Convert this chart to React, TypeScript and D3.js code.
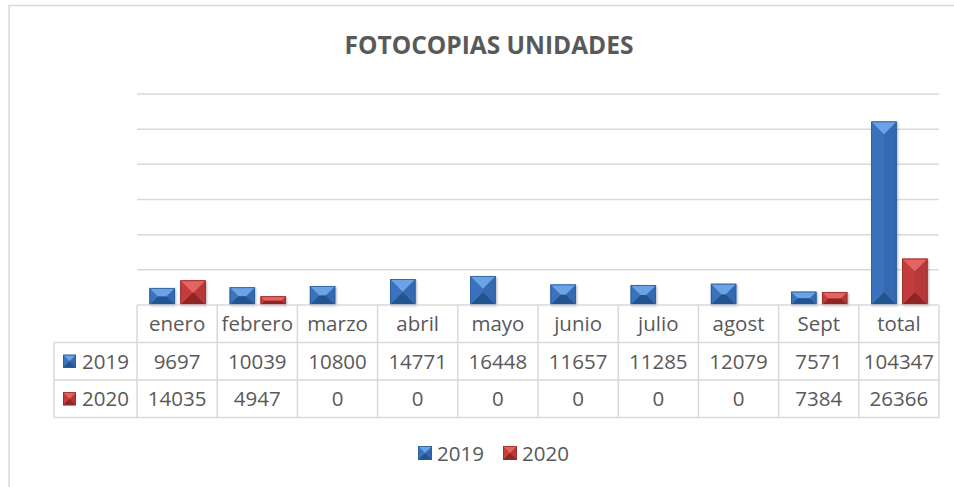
import * as d3 from 'd3';

const categories = ['enero', 'febrero', 'marzo', 'abril', 'mayo', 'junio', 'julio', 'agost', 'Sept', 'total'];
const seriesNames = ['2019', '2020'];
const values2019 = [9697, 10039, 10800, 14771, 16448, 11657, 11285, 12079, 7571, 104347];
const values2020 = [14035, 4947, 0, 0, 0, 0, 0, 0, 7384, 26366];
const gridTicks = [20000, 40000, 60000, 80000, 100000, 120000];

const W = 954;
const H = 487;
const FONT = '"Open Sans", "DejaVu Sans", sans-serif';
const TEXT = '#595959';
const LINE = '#d9d9d9';

// bevel shades per series: base, top, bottom, left, right, edge
const shades = {
    '2019': { base: '#3a70bb', top: '#6aa3e6', bottom: '#24558f', left: '#3b72be', right: '#3569b2', edge: '#2c5a96' },
    '2020': { base: '#c23b3b', top: '#e46464', bottom: '#8e2626', left: '#c43e3e', right: '#b73737', edge: '#962b2b' },
};

const pts = (arr) => arr.map((p) => p.join(',')).join(' ');

// Excel-like beveled box
const Bevel = ({ x, y, w, h, s, shadow = true }) => {
    if (h <= 0) return null;
    const b = Math.min(w / 2, h / 2);
    const c = shades[s];
    return (
        <g filter={shadow ? 'url(#shadow)' : undefined}>
            <rect x={x} y={y} width={w} height={h} fill={c.base} />
            <polygon points={pts([[x, y], [x + b, y + b], [x + b, y + h - b], [x, y + h]])} fill={c.left} />
            <polygon points={pts([[x + w, y], [x + w - b, y + b], [x + w - b, y + h - b], [x + w, y + h]])} fill={c.right} />
            <polygon points={pts([[x, y], [x + w, y], [x + w - b, y + b], [x + b, y + b]])} fill={c.top} />
            <polygon points={pts([[x, y + h], [x + w, y + h], [x + w - b, y + h - b], [x + b, y + h - b]])} fill={c.bottom} />
            <rect x={x + 0.4} y={y + 0.4} width={w - 0.8} height={h - 0.8} fill="none" stroke={c.edge} strokeWidth={0.8} />
        </g>
    );
};

export default function App() {
    const plotLeft = 137;
    const plotRight = 939;
    const baseY = 305;
    const topY = 94;

    const x = d3.scaleBand().domain(categories).range([plotLeft, plotRight]);
    const y = d3.scaleLinear().domain([0, 120000]).range([baseY, topY]);
    const inner = d3.scaleBand().domain(seriesNames).range([12.5, x.bandwidth() - 11.5]).paddingInner(0.18);

    const series = [
        { name: '2019', values: values2019 },
        { name: '2020', values: values2020 },
    ];

    // data table rows
    const rowTops = [305, 342.5, 380, 417.5];
    const tableLeft = 54;

    return (
        <div style={{ position: 'absolute', left: 0, top: 0 }}>
            <svg width={W} height={H} style={{ display: 'block', background: '#fff' }}>
                <defs>
                    <filter id="shadow" x="-30%" y="-30%" width="160%" height="160%">
                        <feDropShadow dx="1" dy="1" stdDeviation="1.2" floodColor="#000" floodOpacity="0.28" />
                    </filter>
                </defs>

                {/* chart area border */}
                <rect x={9} y={5.5} width={W + 20} height={H + 20} fill="#fff" stroke={LINE} strokeWidth={1.5} />

                <text x={489} y={54} textAnchor="middle" fontFamily={FONT} fontWeight="bold" fontSize={24.5} fill={TEXT}>
                    FOTOCOPIAS UNIDADES
                </text>

                {/* gridlines */}
                {gridTicks.map((t) => (
                    <line key={t} x1={plotLeft} x2={plotRight} y1={y(t)} y2={y(t)} stroke={LINE} strokeWidth={1.5} />
                ))}

                {/* bars */}
                {series.map((s) => s.values.map((v, i) => (
                    <Bevel
                        key={s.name + i}
                        x={x(categories[i]) + inner(s.name)}
                        y={y(v)}
                        w={inner.bandwidth()}
                        h={baseY - y(v)}
                        s={s.name}
                    />
                )))}

                {/* data table */}
                <g stroke={LINE} strokeWidth={1.5} fill="none">
                    <line x1={plotLeft} x2={plotRight} y1={rowTops[0]} y2={rowTops[0]} />
                    {rowTops.slice(1).map((r) => (
                        <line key={r} x1={tableLeft} x2={plotRight} y1={r} y2={r} />
                    ))}
                    <line x1={tableLeft} x2={tableLeft} y1={rowTops[1]} y2={rowTops[3]} />
                    {categories.map((c) => (
                        <line key={c} x1={x(c)} x2={x(c)} y1={rowTops[0]} y2={rowTops[3]} />
                    ))}
                    <line x1={plotRight} x2={plotRight} y1={rowTops[0]} y2={rowTops[3]} />
                </g>

                <g fontFamily={FONT} fontSize={20.5} fill={TEXT} textAnchor="middle">
                    {categories.map((c) => (
                        <text key={c} x={x(c) + x.bandwidth() / 2} y={(rowTops[0] + rowTops[1]) / 2 + 7}>{c}</text>
                    ))}
                    {series.map((s, r) => s.values.map((v, i) => (
                        <text key={s.name + i} x={x(categories[i]) + x.bandwidth() / 2} y={(rowTops[r + 1] + rowTops[r + 2]) / 2 + 7.5}>{v}</text>
                    )))}
                </g>

                {/* row labels with keys */}
                {series.map((s, r) => {
                    const cy = (rowTops[r + 1] + rowTops[r + 2]) / 2;
                    return (
                        <g key={s.name}>
                            <Bevel x={63} y={cy - 6.5} w={13} h={13} s={s.name} shadow={false} />
                            <text x={82} y={cy + 7.5} fontFamily={FONT} fontSize={20.5} fill={TEXT}>{s.name}</text>
                        </g>
                    );
                })}

                {/* legend */}
                {series.map((s, i) => {
                    const lx = 418 + i * 85;
                    return (
                        <g key={s.name}>
                            <Bevel x={lx} y={446} w={14} h={14} s={s.name} shadow={false} />
                            <text x={lx + 19} y={460.5} fontFamily={FONT} fontSize={20.5} fill={TEXT}>{s.name}</text>
                        </g>
                    );
                })}
            </svg>
        </div>
    );
}
